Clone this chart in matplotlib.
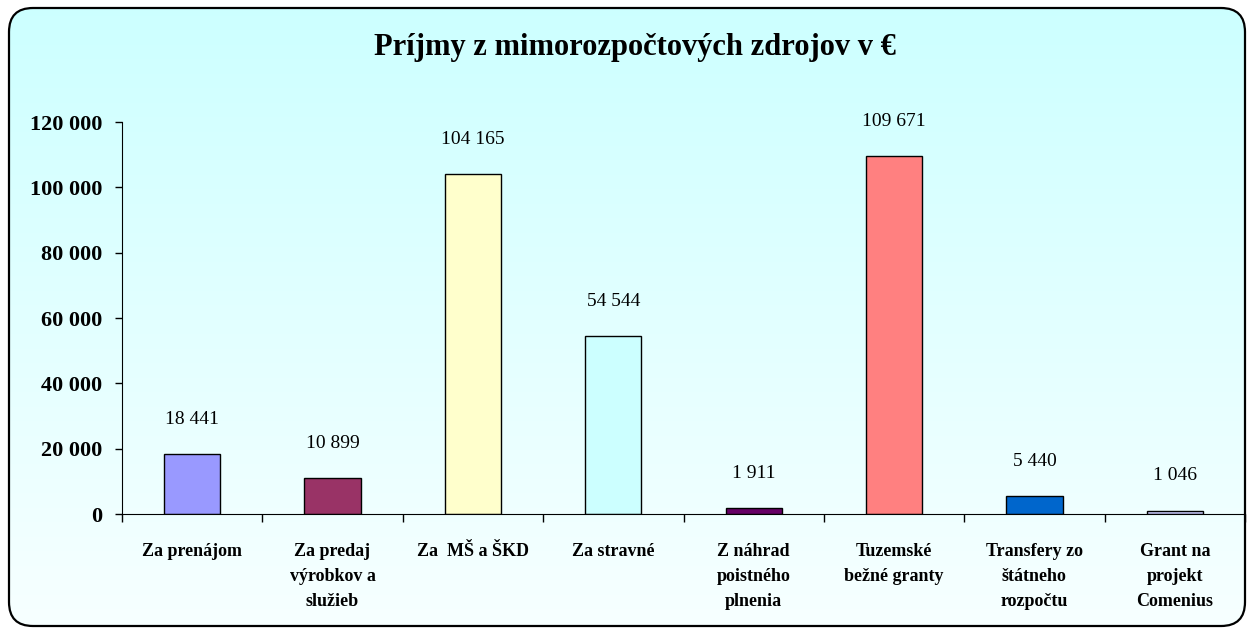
import numpy as np
import matplotlib
matplotlib.use("Agg")
import matplotlib.pyplot as plt
from matplotlib.patches import FancyBboxPatch

categories = ["Za prenájom", "Za predaj\nvýrobkov a\nslužieb", "Za  MŠ a ŠKD", "Za stravné",
              "Z náhrad\npoistného\nplnenia", "Tuzemské\nbežné granty",
              "Transfery zo\nštátneho\nrozpočtu", "Grant na\nprojekt\nComenius"]
values = [18441, 10899, 104165, 54544, 1911, 109671, 5440, 1046]
colors = ["#9999FF", "#993366", "#FFFFCC", "#CCFFFF", "#660066", "#FF8080", "#0066CC", "#CCCCFF"]
yticks = [0, 20000, 40000, 60000, 80000, 100000, 120000]

plt.rcParams['font.family'] = ['Liberation Serif', 'DejaVu Serif']

W, H = 1248, 630
fig = plt.figure(figsize=(W / 100, H / 100), dpi=100)

# background panel with gradient and rounded border
bg = fig.add_axes([0, 0, 1, 1], zorder=-1)
bg.set_xlim(0, W)
bg.set_ylim(H, 0)
bg.axis("off")
grad = np.linspace(0, 1, 256).reshape(-1, 1)
top = np.array([0.80, 1.0, 1.0])
bot = np.array([0.97, 1.0, 1.0])
img = top + (bot - top) * grad[..., None]
img = np.repeat(img, 2, axis=1)
im = bg.imshow(img, extent=(0, W, H, 0), aspect="auto", interpolation="bilinear")
box = FancyBboxPatch((9, 8), 1236, 618, boxstyle="round,pad=0,rounding_size=24",
                     facecolor="none", edgecolor="black", linewidth=1.6)
bg.add_patch(box)
im.set_clip_path(box)

ax = fig.add_axes([122 / W, 1 - 514 / H, (1245 - 122) / W, (514 - 122) / H])
ax.patch.set_alpha(0)
x = np.arange(len(values))
bars = ax.bar(x, values, width=0.4, color=colors, edgecolor="black", linewidth=1.0)

for xi, v in zip(x, values):
    ax.annotate(f"{v:,}".replace(",", " "), (xi, v), xytext=(0, 25), textcoords="offset points",
                ha="center", va="center", fontsize=14)

ax.set_xlim(-0.5, len(values) - 0.5)
ax.set_ylim(0, 120000)
ax.set_yticks(yticks)
ax.set_yticklabels([f"{t:,}".replace(",", " ") for t in yticks], fontsize=16, fontweight="bold")
ax.set_xticks(x)
ax.set_xticklabels(categories, fontsize=13, fontweight="bold", linespacing=1.6, va="top")
ax.set_xticks(np.arange(-0.5, len(values)), minor=True)
ax.tick_params(axis="x", which="major", length=0, pad=21)
ax.tick_params(axis="x", which="minor", length=6, width=1)
ax.tick_params(axis="y", length=5, width=1, pad=9)
ax.spines["top"].set_visible(False)
ax.spines["right"].set_visible(False)

fig.text(635 / W, 1 - 47 / H, "Príjmy z mimorozpočtových zdrojov v €", ha="center", va="center",
         fontsize=22, fontweight="bold")

fig.savefig("out.png", dpi=100)
